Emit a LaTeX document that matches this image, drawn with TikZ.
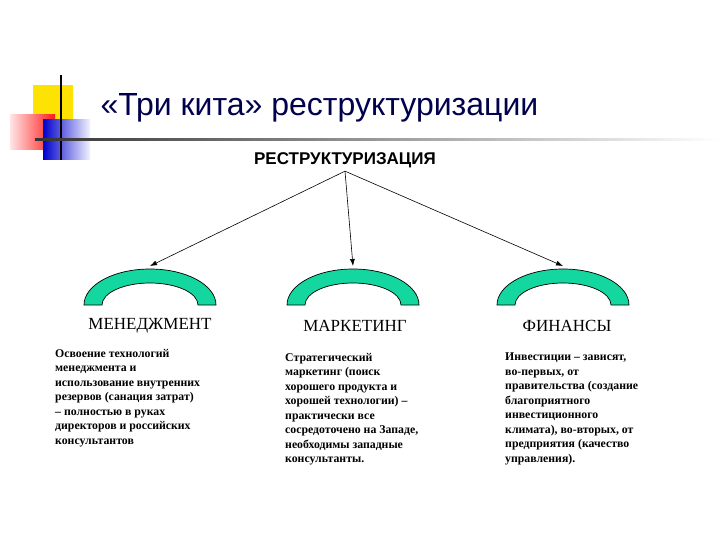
\documentclass[tikz,border=0pt]{standalone}
\usepackage{fontspec}
\usetikzlibrary{arrows.meta}
\setmainfont{Liberation Serif}
\newfontfamily\arial{Liberation Sans}
\definecolor{archc}{RGB}{20,215,160}
\begin{document}
\begin{tikzpicture}[x=1pt,y=-1pt,
  arch/.style={fill=archc, draw=black, line width=0.7pt},
  lbl/.style={font=\fontsize{17}{17}\selectfont, anchor=center},
  body/.style={font=\bfseries\fontsize{11.8}{14.5}\selectfont, align=left, anchor=north west, inner sep=0pt},
  arr/.style={-{Latex[length=7pt,width=5pt]}, line width=0.6pt}]
\useasboundingbox (0,0) rectangle (720,540);
% decoration
\fill[yellow!85!orange] (33,85) rectangle (73,122);
\shade[left color=red!10, right color=red!90] (10,115) rectangle (55,150);
\shade[left color=blue!80!black, right color=blue!5] (43,120) rectangle (90,160);
\draw[line width=1.5pt] (61,75) -- (61,160);
\shade[left color=black!80, right color=white] (35,139) rectangle (720,141);
\node[font=\arial\fontsize{32}{32}\selectfont, text=blue!30!black, anchor=west] (t) at (97,108) {«Три кита» реструктуризации};
\node[font=\arial\bfseries\fontsize{17}{17}\selectfont] (h) at (345,160) {РЕСТРУКТУРИЗАЦИЯ};
% arches
\foreach \n/\cx in {a/150,b/353,c/563}{
  \path[arch] (\cx-66,305) arc[start angle=180,end angle=360,x radius=66,y radius=36]
     -- (\cx+48,305) arc[start angle=360,end angle=180,x radius=48,y radius=22] -- cycle;
  \coordinate (\n) at (\cx,266);
}
\draw[arr] (h.south) -- (a);
\draw[arr] (h.south) -- (b);
\draw[arr] (h.south) -- (c);
\node[lbl] (l1) at (150,326) {МЕНЕДЖМЕНТ};
\node[lbl] (l2) at (355,326) {МАРКЕТИНГ};
\node[lbl] (l3) at (567,326) {ФИНАНСЫ};
\node[body] (b1) at (55,349) {Освоение технологий\\менеджмента и\\использование внутренних\\резервов (санация затрат)\\– полностью в руках\\директоров и российских\\консультантов};
\node[body] (b2) at (285,353) {Стратегический\\маркетинг (поиск\\хорошего продукта и\\хорошей технологии) –\\практически все\\сосредоточено на Западе,\\необходимы западные\\консультанты.};
\node[body] (b3) at (505,353) {Инвестиции – зависят,\\во-первых, от\\правительства (создание\\благоприятного\\инвестиционного\\климата), во-вторых, от\\предприятия (качество\\управления).};
\end{tikzpicture}
\end{document}
